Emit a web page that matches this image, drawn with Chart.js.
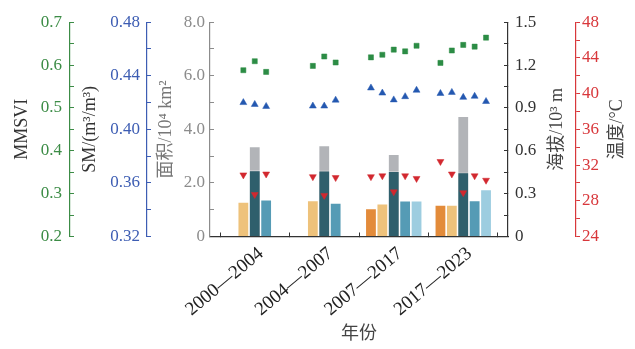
<!DOCTYPE html>
<html lang="zh">
<head>
<meta charset="utf-8">
<title>年份 多轴组合图</title>
<script src="https://cdn.jsdelivr.net/npm/chart.js@4.4.1/dist/chart.umd.min.js"></script>
<style>
  html, body { margin: 0; padding: 0; background: #fff; }
  #wrap { width: 635px; height: 349px; }
</style>
</head>
<body>
<div id="wrap"><canvas id="chart"></canvas></div>
<script>
// categories
const periods = ['2000—2004', '2004—2007', '2007—2017', '2017—2023'];

// bars (面积/10^4 km2), five slots per period
const barOrange = [null, null, 1.05, 1.18];
const barLightOrange = [1.29, 1.35, 1.22, 1.18];
const barDarkTeal = [2.47, 2.46, 2.44, 2.39];
const barGrayTotal = [3.36, 3.40, 3.07, 4.49];
const barTeal = [1.37, 1.25, 1.34, 1.35];
const barLightBlue = [null, null, 1.34, 1.76];

// markers, one row per period, one entry per bar slot
const mmsvi = [
  [null, 0.588, 0.609, 0.584, null],
  [null, 0.598, 0.620, 0.606, null],
  [0.618, 0.624, 0.636, 0.632, 0.645],
  [0.605, 0.634, 0.647, 0.643, 0.664]
];
const soilMoisture = [
  [null, 0.4200, 0.4186, 0.4171, null],
  [null, 0.4174, 0.4174, 0.4218, null],
  [0.4309, 0.4271, 0.4220, 0.4244, 0.4292],
  [0.4268, 0.4276, 0.4239, 0.4247, 0.4208]
];
const temperature = [
  [null, 30.9, 28.7, 31.0, null],
  [null, 30.7, 28.6, 30.6, null],
  [30.7, 30.8, 29.0, 30.8, 30.5],
  [32.4, 31.0, 28.9, 30.8, 30.3]
];

const CAT_PCT = 0.82;
const SLOTS = 5;
const serif = "'Liberation Serif', 'Times New Roman', 'Noto Sans CJK SC', serif";

// x position of a bar slot, same rule as the bar controller uses
const slotX = (i, k) => i + (k - (SLOTS - 1) / 2) * CAT_PCT / SLOTS;
const toPoints = (rows) => rows.flatMap((row, i) =>
  row.map((v, k) => (v == null ? null : { x: slotX(i, k), y: v })).filter(Boolean));
const toBars = (vals) => vals.map((v, i) => ({ x: i, y: v }));

function markerSet(label, rows, axis, color, style, radius, rotation) {
  return {
    type: 'line', label, data: toPoints(rows), yAxisID: axis, showLine: false,
    pointStyle: style, pointRadius: radius, pointRotation: rotation || 0,
    pointBackgroundColor: color, pointBorderColor: color, pointBorderWidth: 0.5
  };
}
function barSet(label, vals, color, stack) {
  return {
    type: 'bar', label, data: toBars(vals), yAxisID: 'yArea', stack,
    backgroundColor: color, borderColor: 'rgba(255,255,255,0.55)', borderWidth: 0.8,
    categoryPercentage: CAT_PCT, barPercentage: 1
  };
}

function valueAxis(o) {
  return {
    type: 'linear', position: o.pos, weight: o.weight, min: o.min, max: o.max, display: true,
    stacked: false,
    afterBuildTicks: (s) => {
      const n = Math.round((o.max - o.min) / o.step);
      const t = [];
      for (let j = 0; j <= n; j++) t.push({ value: +(o.min + j * o.step).toFixed(4) });
      s.ticks = t;
    },
    afterFit: (s) => { s.width = o.width; },
    grid: { drawOnChartArea: false, color: o.line, tickLength: o.tickLen, lineWidth: 1 },
    border: { display: true, color: o.line, width: 1.2 },
    ticks: {
      color: o.color, padding: o.pad, autoSkip: false,
      font: { family: serif, size: 17 },
      callback: (v, i) => (i % 2 === 0 ? o.fmt(v) : '')
    },
    title: {
      display: o.pos === 'left', text: o.title, color: o.titleColor,
      font: { family: serif, size: 18 }, padding: { top: o.titlePad, bottom: o.titlePad }
    }
  };
}

// right-hand axis titles read bottom-to-top like the left ones
const rightTitles = {
  id: 'rightTitles',
  afterDraw(chart) {
    const ctx = chart.ctx;
    ['yAlt', 'yTemp'].forEach((id) => {
      const s = chart.scales[id];
      const t = s.options.title;
      const size = 18;
      const x = s.right - (size * 1.2 / 2 + t.padding.top);
      ctx.save();
      ctx.translate(x, (s.top + s.bottom) / 2);
      ctx.rotate(-Math.PI / 2);
      ctx.font = size + 'px ' + serif;
      ctx.fillStyle = t.color;
      ctx.textAlign = 'center';
      ctx.textBaseline = 'middle';
      ctx.fillText(t.text, 0, 0);
      ctx.restore();
    });
  }
};

const boundaries = periods.map((p, i) => i - 0.5).concat([periods.length - 0.5]);

new Chart(document.getElementById('chart'), {
  data: {
    datasets: [
      markerSet('MMSVI', mmsvi, 'yMmsvi', '#2c8c45', 'rect', 3.6),
      markerSet('SM', soilMoisture, 'ySm', '#2458b0', 'triangle', 4),
      markerSet('温度', temperature, 'yTemp', '#d2282f', 'triangle', 4, 180),
      barSet('A', barOrange, '#e38b3a', 'a'),
      barSet('B', barLightOrange, '#eec27b', 'b'),
      barSet('C', barDarkTeal, '#2f5f6c', 'c'),
      barSet('C 总计', barGrayTotal, '#b2b4b8', 'c'),
      barSet('D', barTeal, '#559bb5', 'd'),
      barSet('E', barLightBlue, '#9dcde0', 'e')
    ]
  },
  options: {
    responsive: true,
    maintainAspectRatio: false,
    animation: false,
    layout: { padding: { top: 16, left: 0, right: 0, bottom: 0 } },
    plugins: { legend: { display: false }, tooltip: { enabled: false } },
    scales: {
      x: {
        type: 'linear', position: 'bottom', offset: false,
        min: -0.644, max: periods.length - 0.356,
        afterBuildTicks: (s) => { s.ticks = boundaries.map((v) => ({ value: v })); },
        afterFit: (s) => { s.height = 112.5; },
        grid: { drawOnChartArea: false, offset: false, color: '#333', tickLength: -4 },
        border: { display: true, color: '#333', width: 1.2 },
        ticks: {
          autoSkip: false, minRotation: 40, maxRotation: 40, labelOffset: 41, padding: 10,
          color: '#222', font: { family: serif, size: 19 },
          callback: (v, i) => periods[i] || ''
        },
        title: {
          display: true, text: '年份', color: '#444',
          font: { family: serif, size: 18 }, padding: { top: 0, bottom: 4 }
        }
      },
      yMmsvi: valueAxis({
        pos: 'left', weight: 3, min: 0.2, max: 0.7, step: 0.05, width: 70,
        color: '#3c8c46', line: '#3c8c46', tickLen: -4, pad: 12,
        fmt: (v) => v.toFixed(1), title: 'MMSVI', titleColor: '#333', titlePad: 11
      }),
      ySm: valueAxis({
        pos: 'left', weight: 2, min: 0.32, max: 0.48, step: 0.02, width: 77,
        color: '#3d5db3', line: '#3d5db3', tickLen: -4, pad: 11,
        fmt: (v) => v.toFixed(2), title: 'SM/(m³/m³)', titleColor: '#333', titlePad: 9
      }),
      yArea: valueAxis({
        pos: 'left', weight: 1, min: 0, max: 8, step: 1, width: 63,
        color: '#8c8c8c', line: '#8c8c8c', tickLen: -4, pad: 9,
        fmt: (v) => (v === 0 ? '0' : v.toFixed(1)), title: '面积/10⁴ km²', titleColor: '#777', titlePad: 8
      }),
      yAlt: valueAxis({
        pos: 'right', weight: 1, min: 0, max: 1.5, step: 0.15, width: 68,
        color: '#333', line: '#333', tickLen: -4, pad: 11,
        fmt: (v) => (v === 0 ? '0' : v.toFixed(1)), title: '海拔/10³ m', titleColor: '#444', titlePad: 8
      }),
      yTemp: valueAxis({
        pos: 'right', weight: 2, min: 24, max: 48, step: 2, width: 59,
        color: '#d8373b', line: '#d8373b', tickLen: 4, pad: 2,
        fmt: (v) => v.toFixed(0), title: '温度/°C', titleColor: '#444', titlePad: 7
      })
    }
  },
  plugins: [rightTitles]
});
</script>
</body>
</html>
